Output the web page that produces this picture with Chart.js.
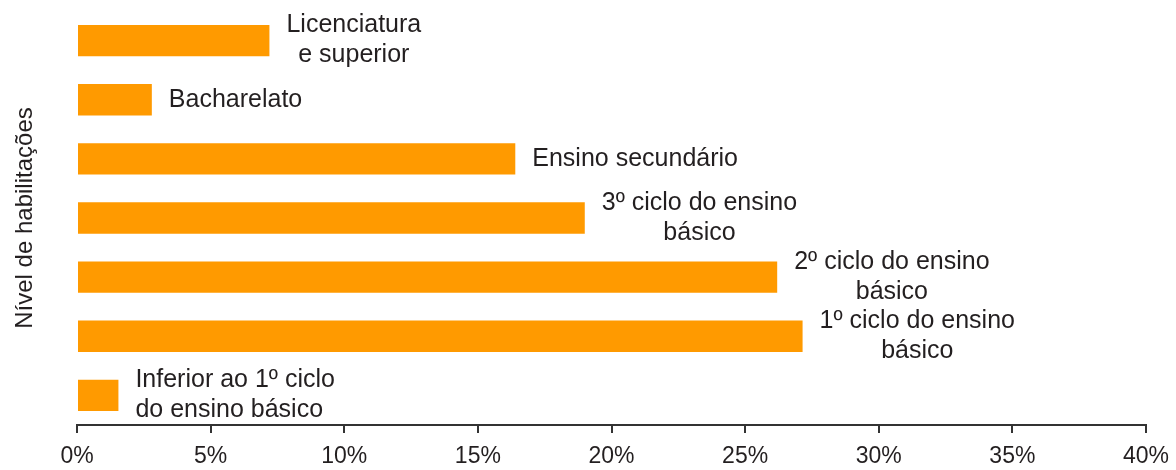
<!DOCTYPE html>
<html>
<head>
<meta charset="utf-8">
<script src="https://cdn.jsdelivr.net/npm/chart.js@4/dist/chart.umd.min.js"></script>
<style>
  html, body { margin: 0; padding: 0; background: #fff; }
  #wrap { width: 1176px; height: 470px; }
</style>
</head>
<body>
<div id="wrap"><canvas id="graficoHab"></canvas></div>
<script>
// categorias (cada uma em linhas, como no rotulo original)
var niveis = [
  ['Licenciatura', 'e superior'],
  ['Bacharelato'],
  ['Ensino secundário'],
  ['3º ciclo do ensino', 'básico'],
  ['2º ciclo do ensino', 'básico'],
  ['1º ciclo do ensino', 'básico'],
  ['Inferior ao 1º ciclo', 'do ensino básico']
];
var percentagens = [7.2, 2.8, 16.4, 19.0, 26.2, 27.15, 1.55];
var ticksX = [0, 5, 10, 15, 20, 25, 30, 35, 40];

var fonte = "'Liberation Sans', Arial, sans-serif";
var corTexto = '#231f20';

// escreve o rotulo de cada barra a direita da ponta
var rotulosBarras = {
  id: 'rotulosBarras',
  afterDatasetsDraw: function (chart) {
    var ctx = chart.ctx;
    var meta = chart.getDatasetMeta(0);
    ctx.save();
    ctx.font = '25px ' + fonte;
    ctx.fillStyle = corTexto;
    ctx.textBaseline = 'middle';
    meta.data.forEach(function (bar, i) {
      var linhas = niveis[i];
      var larg = 0;
      linhas.forEach(function (l) { larg = Math.max(larg, ctx.measureText(l).width); });
      var esq = bar.x + 17;
      var y0 = bar.y - (linhas.length - 1) * 30 / 2;
      // o ultimo rotulo vem alinhado a esquerda
      var alinhaEsq = (i == niveis.length - 1);
      ctx.textAlign = alinhaEsq ? 'left' : 'center';
      linhas.forEach(function (l, k) {
        ctx.fillText(l, alinhaEsq ? esq : esq + larg / 2, y0 + k * 30);
      });
    });
    ctx.restore();
  }
};

var ctx = document.getElementById('graficoHab').getContext('2d');
var grafico = new Chart(ctx, {
  type: 'bar',
  data: {
    labels: niveis,
    datasets: [{
      label: 'Nível de habilitações',
      data: percentagens,
      backgroundColor: '#FF9A00',
      borderWidth: 0,
      barPercentage: 1,
      categoryPercentage: 0.53
    }]
  },
  options: {
    indexAxis: 'y',
    responsive: true,
    maintainAspectRatio: false,
    animation: false,
    layout: { padding: { top: 11, right: 0, left: 7, bottom: 0 } },
    plugins: {
      legend: { display: false },
      tooltip: { enabled: false }
    },
    scales: {
      x: {
        min: 0,
        max: 40,
        afterBuildTicks: function (s) {
          s.ticks = ticksX.map(function (v) { return { value: v }; });
        },
        afterFit: function (s) { s.height = 45; s.paddingRight = 30; },
        ticks: {
          callback: function (v) { return v + '%'; },
          font: { family: fonte, size: 23 },
          color: corTexto,
          padding: 10,
          maxRotation: 0
        },
        grid: {
          display: true,
          drawOnChartArea: false,
          drawTicks: true,
          tickLength: 8,
          color: '#333',
          lineWidth: 2
        },
        border: { display: true, color: '#333', width: 2 }
      },
      y: {
        afterFit: function (s) { s.width = 70; },
        ticks: { display: false },
        grid: { display: false, drawTicks: false },
        border: { display: false },
        title: {
          display: true,
          text: 'Nível de habilitações',
          font: { family: fonte, size: 24 },
          color: corTexto,
          padding: { top: 4, bottom: 0 }
        }
      }
    }
  },
  plugins: [rotulosBarras]
});
</script>
</body>
</html>
